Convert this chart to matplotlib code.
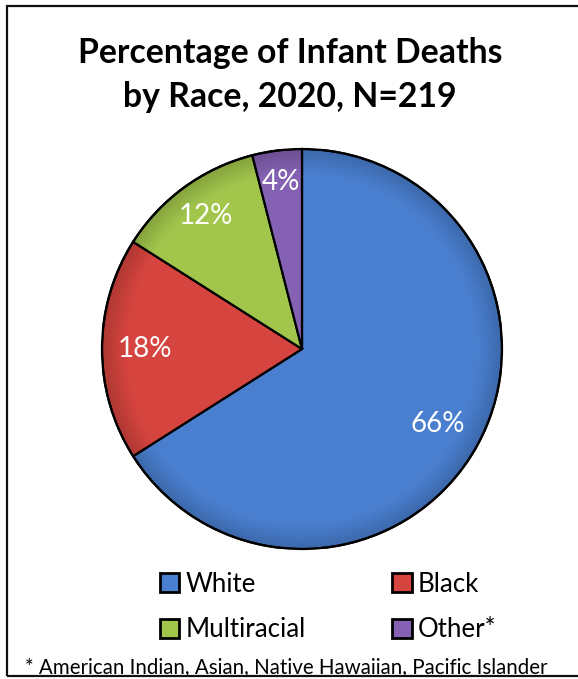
import matplotlib
matplotlib.use("Agg")
import matplotlib.pyplot as plt
from matplotlib.patches import Rectangle, Circle
import numpy as np

categories = ["White", "Black", "Multiracial", "Other*"]
percents = [66, 18, 12, 4]
labels = ["66%", "18%", "12%", "4%"]
colors = ["#4a7fd0", "#d5443e", "#a2c64c", "#8461b2"]
title = "Percentage of Infant Deaths\nby Race, 2020, N=219"
footnote = "* American Indian, Asian, Native Hawaiian, Pacific Islander"

W, H = 578, 679
fig = plt.figure(figsize=(W / 100, H / 100), dpi=100)
fig.patch.set_facecolor("white")

# frame
fig.add_artist(Rectangle((7 / W, 1 - 676 / H), 1.0, (676 - 6) / H,
                         transform=fig.transFigure, fill=False,
                         edgecolor="#111111", lw=1.6))

# pie axes: center (302,349), radius 200
cx, cy, r = 302, 349, 200
ax = fig.add_axes([(cx - r) / W, 1 - (cy + r) / H, 2 * r / W, 2 * r / H])
wedges, texts = ax.pie(percents, colors=colors, startangle=90, counterclock=False,
                       radius=1.0,
                       wedgeprops=dict(edgecolor="black", linewidth=1.6))

# subtle rim shading
g = np.linspace(-1, 1, 400)
X, Y = np.meshgrid(g, g)
R = np.sqrt(X ** 2 + Y ** 2)
shade = np.zeros((400, 400, 4))
shade[..., 3] = np.clip((R - 0.88) / 0.12, 0, 1) * 0.18
im = ax.imshow(shade, extent=(-1, 1, -1, 1), origin="lower", zorder=1.5)
im.set_clip_path(Circle((0, 0), 1.0, transform=ax.transData))
for w in wedges:
    w.set_zorder(1)
edge_ring = Circle((0, 0), 1.0, fill=False, edgecolor="black", lw=1.6, zorder=2)
ax.add_patch(edge_ring)

ax.set_xlim(-1.0, 1.0)
ax.set_ylim(-1.0, 1.0)
ax.set_aspect("equal")
ax.axis("off")

cum = np.cumsum([0] + percents[:-1])
label_r = [0.775, 0.785, 0.82, 0.84]
for p, c, lab, lr in zip(percents, cum, labels, label_r):
    ang = np.deg2rad(90 - (c + p / 2) / 100 * 360)
    ax.text(lr * np.cos(ang), lr * np.sin(ang), lab, color="white",
            fontsize=20, family="Lato", ha="center", va="center", zorder=3)

fig.text(290 / W, 1 - 75 / H, title, ha="center", va="center",
         fontsize=24.3, fontweight="bold", family="Lato", linespacing=1.45)

# legend (row-wise order: White, Black / Multiracial, Other*)
order = [0, 2, 1, 3]
handles = [Rectangle((0, 0), 1, 1, facecolor=colors[i], edgecolor="black", lw=2.0) for i in order]
names = [categories[i] for i in order]
leg = fig.legend(handles, names, loc="center", ncol=2,
                 bbox_to_anchor=(328 / W, 1 - 607 / H), frameon=False,
                 prop=dict(family="Lato", size=18.6), handlelength=0.75, handleheight=0.75,
                 handletextpad=0.25, columnspacing=3.35, labelspacing=0.8)

fig.text(25 / W, 1 - 667 / H, footnote, ha="left", va="center",
         fontsize=14.8, family="Lato")

fig.savefig("out.png", dpi=100, facecolor="white")
